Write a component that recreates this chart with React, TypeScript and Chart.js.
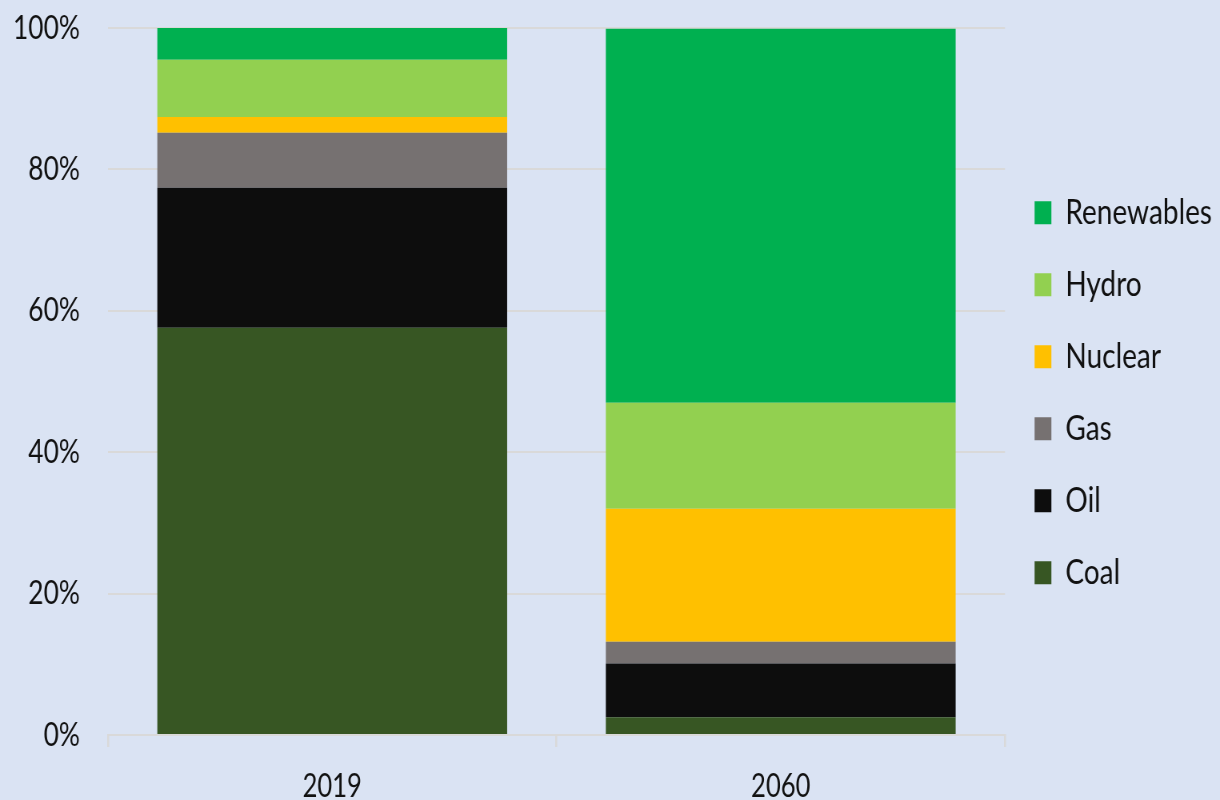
import React, { useEffect, useRef } from 'react';
import { Chart, registerables } from 'chart.js';
Chart.register(...registerables);

// ---- data ----
const categories = ['2019', '2060'];
const coal = [57.6, 2.5];
const oil = [19.8, 7.6];
const gas = [7.8, 3.1];
const nuclear = [2.2, 18.8];
const hydro = [8.1, 15.0];
const renewables = [4.5, 52.9];
const yTickValues = [0, 20, 40, 60, 80, 100];
const seriesNames = ['Coal', 'Oil', 'Gas', 'Nuclear', 'Hydro', 'Renewables'];
const seriesColors = ['#375623', '#0D0D0D', '#767171', '#FFC000', '#92D050', '#00B050'];

// horizontal squeeze of the reference picture
const SX = 0.8;
const W = 1560;
const H = 800;

export default function App() {
  const ref = useRef<HTMLCanvasElement>(null);

  useEffect(() => {
    const canvas = ref.current;
    if (!canvas) return;
    const FONT = 'Lato';
    const tickSize = 33;
    const legSize = 35;
    const textColor = '#111111';
    const gridColor = '#D9D9D9';

    const mctx = document.createElement('canvas').getContext('2d')!;
    mctx.font = `${legSize}px ${FONT}`;
    const tw = Math.max(...seriesNames.map((n) => mctx.measureText(n).width));
    const legPad = 37;
    const boxW = 21;
    const boxH = 23;
    const legendW = legPad + boxW + legSize / 2 + tw + 10;
    const areaLeft = 108 / SX;
    const areaRight = 1005 / SX;
    const areaBottom = 735;
    const pt = 28;
    const pb = 0;
    const pr = Math.max(0, W - areaRight - legendW);

    const allSeries = [coal, oil, gas, nuclear, hydro, renewables];
    const datasets = allSeries.map((d, i) => ({
      label: seriesNames[i],
      data: d,
      backgroundColor: seriesColors[i],
      borderWidth: 0,
      barPercentage: 0.78,
      categoryPercentage: 1.0,
    }));

    const chart = new Chart(canvas, {
      type: 'bar',
      data: { labels: categories, datasets },
      options: {
        animation: false,
        responsive: false,
        maintainAspectRatio: false,
        layout: { padding: { left: 0, top: pt, bottom: pb, right: pr } },
        plugins: {
          tooltip: { enabled: false },
          legend: {
            position: 'right',
            fullSize: false,
            reverse: true,
            title: {
              display: true,
              text: '',
              padding: 0,
              font: { family: FONT, size: 10, lineHeight: 2.24 },
            },
            labels: {
              boxWidth: boxW,
              boxHeight: boxH,
              padding: legPad,
              color: textColor,
              font: { family: FONT, size: legSize },
            },
          },
        },
        scales: {
          x: {
            stacked: true,
            afterFit: (s: any) => {
              s.height = H - pb - areaBottom;
            },
            grid: {
              offset: true,
              drawOnChartArea: false,
              drawTicks: true,
              tickLength: 12,
              color: gridColor,
              lineWidth: 2.5,
            },
            border: { display: true, color: gridColor, width: 2 },
            ticks: {
              padding: 20,
              color: textColor,
              font: { family: FONT, size: 32 },
              maxRotation: 0,
            },
          },
          y: {
            stacked: true,
            min: 0,
            max: 100,
            afterFit: (s: any) => {
              s.width = areaLeft;
            },
            afterBuildTicks: (s: any) => {
              s.ticks = yTickValues.map((v) => ({ value: v }));
            },
            grid: {
              color: gridColor,
              lineWidth: 2,
              drawTicks: true,
              tickLength: areaLeft - 100,
              tickColor: 'rgba(0,0,0,0)',
            },
            border: { display: false },
            ticks: {
              padding: 0,
              color: textColor,
              font: { family: FONT, size: tickSize },
              callback: (v: any) => `${v}%`,
            },
          },
        },
      },
    });
    return () => chart.destroy();
  }, []);

  return (
    <div
      style={{
        position: 'fixed',
        left: 0,
        top: 0,
        width: 1220,
        height: 800,
        overflow: 'hidden',
        background: '#DAE3F3',
      }}
    >
      <canvas
        ref={ref}
        width={W}
        height={H}
        style={{ display: 'block', transform: `scaleX(${SX})`, transformOrigin: '0 0' }}
      />
    </div>
  );
}
